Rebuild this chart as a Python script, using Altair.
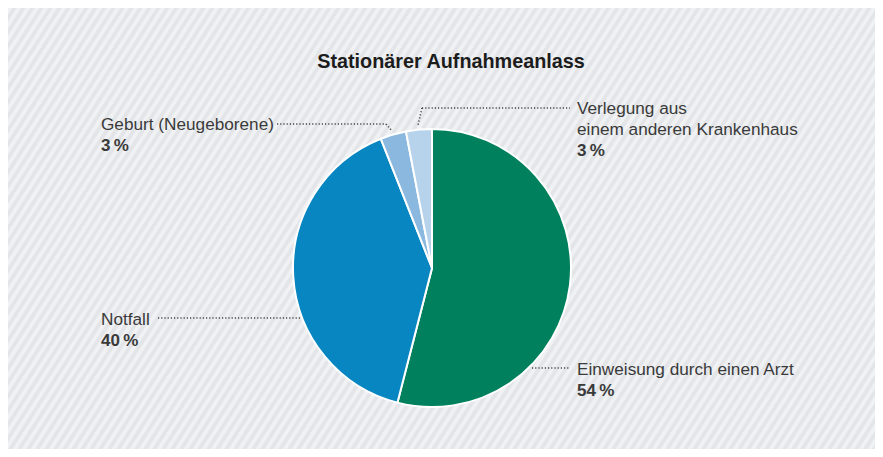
import altair as alt
import pandas as pd

# ---------------- data ----------------
categories = [
    "Einweisung durch einen Arzt",
    "Notfall",
    "Geburt (Neugeborene)",
    "Verlegung aus einem anderen Krankenhaus",
]
label_names = [
    "Einweisung durch einen Arzt",
    "Notfall",
    "Geburt (Neugeborene)",
    "Verlegung aus\neinem anderen Krankenhaus",
]
shares = [54, 40, 3, 3]
colors = ["#00805c", "#0786c1", "#8ab8de", "#b7d3eb"]
title_text = "Stationärer Aufnahmeanlass"

# ---------------- layout (pixels, chart coordinates) ----------------
W, H = 867, 441
CX, CY, R = 424, 260, 139
FONT = "Liberation Sans"
LINE_H = 21
# x, baseline of first line of each label
label_pos = {
    "Einweisung durch einen Arzt": (569, 367),
    "Notfall": (93, 317),
    "Geburt (Neugeborene)": (93, 122),
    "Verlegung aus einem anderen Krankenhaus": (569, 106),
}
leader_segments = [
    (269, 116, 378, 116), (378, 116, 384, 123),   # Geburt
    (414, 100, 562, 100), (414, 100, 410, 117),   # Verlegung
    (150, 310, 292, 310),                          # Notfall
    (524, 360, 562, 360),                          # Einweisung
]

# ---------------- tables ----------------
pie_df = pd.DataFrame({"category": categories, "share": shares, "idx": range(len(categories))})

name_rows, pct_rows = [], []
for cat, nm, s in zip(categories, label_names, shares):
    x, y = label_pos[cat]
    n_lines = nm.count("\n") + 1
    name_rows.append({"x": x, "y": y, "text": nm})
    pct_rows.append({"x": x, "y": y + LINE_H * n_lines, "text": f"{s}\u2009%"})
names_df = pd.DataFrame(name_rows)
pcts_df = pd.DataFrame(pct_rows)
lead_df = pd.DataFrame(leader_segments, columns=["x", "y", "x2", "y2"])

# ---------------- hatched background via gradient ----------------
A, B = 67, 43            # stripe direction (steep, rising to the right)
period_px = 9.0
P = A * period_px / (A * W + B * H)
light, dark = "#eff1f3", "#e3e5e8"
stops = []
t = 0.0
while t < 1.0:
    for off, col in [(0.0, light), (0.42, light), (0.5, dark), (0.92, dark)]:
        o = t + off * P
        if o <= 1.0:
            stops.append(alt.GradientStop(offset=o, color=col))
    t += P
bg_grad = alt.LinearGradient(
    gradient="linear",
    stops=stops,
    x1=0, y1=0,
    x2=float(A * W * (A * W + B * H) / ((A * W) ** 2 + (B * H) ** 2)),
    y2=float(B * H * (A * W + B * H) / ((A * W) ** 2 + (B * H) ** 2)),
)

bg = alt.Chart(pd.DataFrame({"a": [0]})).mark_rect(fill=bg_grad, strokeWidth=0).encode(
    x=alt.value(0), x2=alt.value(W), y=alt.value(0), y2=alt.value(H)
)

pie = alt.Chart(pie_df).mark_arc(radius=R, stroke="white", strokeWidth=2).encode(
    theta=alt.Theta("share:Q", stack=True),
    color=alt.Color("category:N", scale=alt.Scale(domain=categories, range=colors), legend=None),
    order=alt.Order("idx:Q"),
    x=alt.value(CX),
    y=alt.value(CY),
)

leaders = alt.Chart(lead_df).mark_rule(
    color="#444444", strokeWidth=1.5, strokeDash=[1.2, 2.0]
).encode(
    x=alt.X("x:Q", scale=None), y=alt.Y("y:Q", scale=None),
    x2="x2:Q", y2="y2:Q",
)

names = alt.Chart(names_df).mark_text(
    align="left", baseline="alphabetic", font=FONT, fontSize=17.2,
    color="#3a3a3a", lineBreak="\n", lineHeight=LINE_H,
).encode(x=alt.X("x:Q", scale=None), y=alt.Y("y:Q", scale=None), text="text:N")

pcts = alt.Chart(pcts_df).mark_text(
    align="left", baseline="alphabetic", font=FONT, fontSize=17,
    fontWeight="bold", color="#3a3a3a",
).encode(x=alt.X("x:Q", scale=None), y=alt.Y("y:Q", scale=None), text="text:N")

title = alt.Chart(pd.DataFrame({"t": [title_text]})).mark_text(
    align="center", baseline="alphabetic", font=FONT, fontSize=19.8,
    fontWeight="bold", color="#1c1c1c",
).encode(x=alt.value(443), y=alt.value(60), text="t:N")

chart = alt.layer(bg, pie, leaders, names, pcts, title).properties(
    width=W, height=H,
    autosize=alt.AutoSizeParams(type="fit", contains="padding"),
    padding=0,
).configure_view(stroke=None).configure(background="white")

chart.save("out.html", embed_options={"renderer": "svg", "actions": False})
